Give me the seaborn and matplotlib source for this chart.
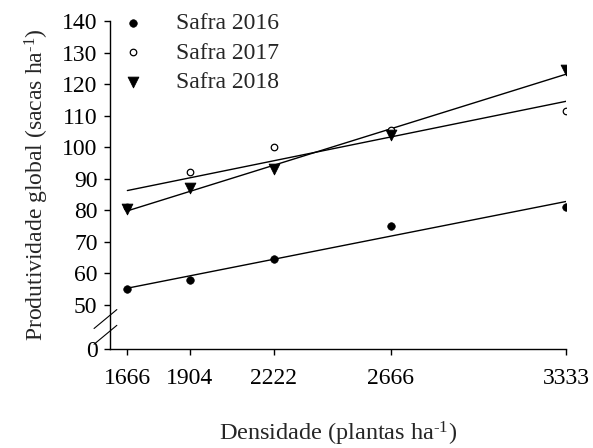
import numpy as np
import pandas as pd
import matplotlib
matplotlib.use("Agg")
import matplotlib.pyplot as plt
import seaborn as sns

# densidade (plantas/ha) e produtividade (sacas/ha)
densidade = [1666, 1904, 2222, 2666, 3333]
safra_2016 = [55, 58, 64.5, 75, 81]
safra_2017 = [81, 92, 100, 105.5, 111.5]
safra_2018 = [80.5, 87, 93, 104, 124.5]
y_ticks = [50, 60, 70, 80, 90, 100, 110, 120, 130, 140]
y_break = 36  # posicao do "0" abaixo da quebra do eixo

sns.set_style("ticks")
plt.rcParams['font.family'] = ['Liberation Serif', 'DejaVu Serif']
plt.rcParams['mathtext.fontset'] = 'custom'
plt.rcParams['mathtext.rm'] = 'Liberation Serif'
plt.rcParams['mathtext.default'] = 'regular'

fig = plt.figure(figsize=(5.93, 4.48), dpi=100)
ax = fig.add_axes([0.1855, 0.221, 0.769, 0.732])

series = [("Safra 2016", safra_2016, dict(marker="o", s=30, color="black", edgecolor="black")),
          ("Safra 2017", safra_2017, dict(marker="o", s=22, color="white", edgecolor="black", linewidth=0.9)),
          ("Safra 2018", safra_2018, dict(marker="v", s=60, color="black", edgecolor="black"))]

for name, vals, style in series:
    df = pd.DataFrame({"x": densidade, "y": vals})
    sns.regplot(data=df, x="x", y="y", ax=ax, scatter=False, ci=None, truncate=True,
                line_kws=dict(color="black", linewidth=1.0))
    sns.scatterplot(data=df, x="x", y="y", ax=ax, label=name, zorder=3, **style)

fs = 17
ax.set_xlim(1600, 3333)
ax.set_ylim(y_break, 140)
ax.set_xticks(densidade)
ax.set_xticklabels([str(d) for d in densidade])
ax.set_yticks([y_break] + y_ticks)
ax.set_yticklabels(["0"] + [str(t) for t in y_ticks])
ax.tick_params(axis="both", direction="out", length=4, width=1, colors="black",
               labelsize=fs, pad=5)
ax.tick_params(axis="x", pad=10)
sns.despine(ax=ax)
for sp in ["left", "bottom"]:
    ax.spines[sp].set_linewidth(1.0)
    ax.spines[sp].set_color("black")

# marcas de quebra do eixo y
for yy in [40.5, 45.5]:
    ax.plot([-0.035, 0.015], [(yy - 3 - y_break) / (140 - y_break), (yy + 3 - y_break) / (140 - y_break)],
            transform=ax.transAxes, color="black", linewidth=0.8, clip_on=False)

ax.set_xlabel("Densidade (plantas ha$^{\\text{-1}}$)", fontsize=17.5, labelpad=22)
ax.set_ylabel("Produtividade global (sacas ha$^{\\text{-1}}$)", fontsize=17, labelpad=8)

leg = ax.legend(loc="upper left", bbox_to_anchor=(-0.032, 1.07), frameon=False, fontsize=fs,
                labelspacing=0.35, handletextpad=0.8, borderaxespad=0.2)

fig.savefig("out.png", dpi=100)
